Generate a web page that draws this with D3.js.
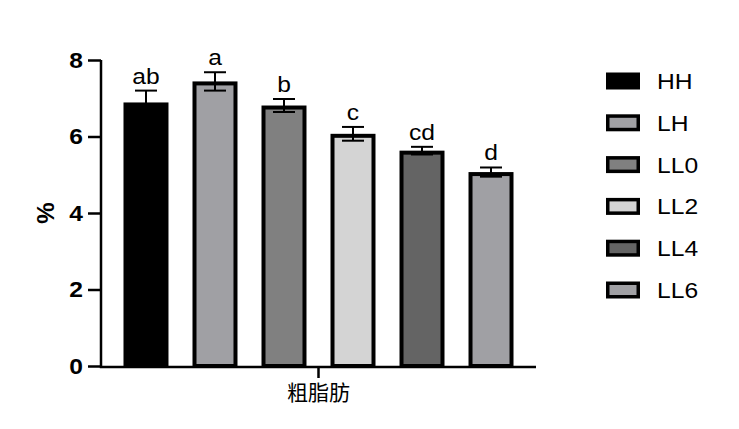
<!DOCTYPE html>
<html><head><meta charset="utf-8">
<script src="https://cdn.jsdelivr.net/npm/d3@7"></script>
<style>body{margin:0;background:#fff}svg{display:block}</style>
</head><body>
<svg id="c" width="739" height="429"></svg>
<script>
const categories = ["HH","LH","LL0","LL2","LL4","LL6"];
const means = [6.89, 7.44, 6.81, 6.07, 5.63, 5.07];
const errors = [0.31, 0.24, 0.17, 0.18, 0.10, 0.12];
const letters = ["ab","a","b","c","cd","d"];
const fills = ["#000000","#a0a0a4","#808080","#d4d4d4","#646464","#a0a0a4"];
const yTicks = [0,2,4,6,8];
const xLabel = "粗脂肪";
const yLabel = "%";

const svg = d3.select("#c");
const y = d3.scaleLinear().domain([0,8]).range([366,60]);
const x = d3.scaleBand().domain(categories).range([101,536]).paddingInner(0.348).paddingOuter(0.326);
const sw = 4;
const font = "'Liberation Sans', Arial, sans-serif";
const sx = 1.12;

// bars
svg.append("g").selectAll("rect").data(categories).join("rect")
  .attr("x", d => x(d) + sw/2)
  .attr("y", (d,i) => y(means[i]) + sw/2)
  .attr("width", x.bandwidth() - sw)
  .attr("height", (d,i) => y(0) - y(means[i]) - sw/2)
  .attr("fill", (d,i) => fills[i])
  .attr("stroke", "#000").attr("stroke-width", sw);

// error bars
const eg = svg.append("g").attr("stroke","#000").attr("stroke-width",2);
categories.forEach((c,i) => {
  const cx = x(c) + x.bandwidth()/2;
  const hi = y(means[i]+errors[i]), lo = y(means[i]-errors[i]);
  eg.append("line").attr("x1",cx).attr("x2",cx).attr("y1",hi).attr("y2",lo);
  eg.append("line").attr("x1",cx-11).attr("x2",cx+11).attr("y1",hi).attr("y2",hi);
  eg.append("line").attr("x1",cx-11).attr("x2",cx+11).attr("y1",lo).attr("y2",lo);
  svg.append("text").attr("transform",`translate(${cx},${hi-7}) scale(${sx},1)`).attr("text-anchor","middle")
    .attr("font-family",font).attr("font-size",22).attr("fill","#000").text(letters[i]);
});

// y axis
const yAxis = svg.append("g").attr("transform","translate(101,0)")
  .call(d3.axisLeft(y).tickValues(yTicks).tickFormat(d3.format("d")).tickSize(13).tickPadding(5));
yAxis.select(".domain").attr("stroke-width",2.5).attr("d","M0,60V367.2");
yAxis.selectAll(".tick line").attr("stroke-width",2.5);
yAxis.selectAll(".tick text").attr("font-family",font).attr("font-size",22).attr("font-weight","bold").attr("fill","#000")
  .attr("x",null).attr("transform",`translate(-18,0) scale(${sx},1)`);

// x axis
const xAxis = svg.append("g").attr("transform","translate(0,367)")
  .call(d3.axisBottom(d3.scaleBand().domain([xLabel]).range([101,536])).tickSize(11).tickPadding(7));
xAxis.select(".domain").attr("stroke-width",2.5).attr("d","M99.8,0H536");
xAxis.selectAll(".tick line").attr("stroke-width",2.5);
xAxis.selectAll(".tick text").attr("font-family","'Noto Sans CJK SC', sans-serif").attr("font-size",21).attr("fill","#000");

// y label
svg.append("text").attr("transform","translate(54,213) rotate(-90)").attr("text-anchor","middle")
  .attr("font-family",font).attr("font-size",24).attr("font-weight","bold").text(yLabel);

// legend
const lg = svg.append("g");
categories.forEach((c,i) => {
  const cy = 81 + 41.8*i;
  lg.append("rect").attr("x",606+1.75).attr("y",cy-8.5+1.75).attr("width",34-3.5).attr("height",17-3.5)
    .attr("fill",fills[i]).attr("stroke","#000").attr("stroke-width",3.5);
  lg.append("text").attr("transform",`translate(657,${cy+8}) scale(${sx},1)`).attr("font-family",font).attr("font-size",22).attr("fill","#000").text(c);
});
</script>
</body></html>
